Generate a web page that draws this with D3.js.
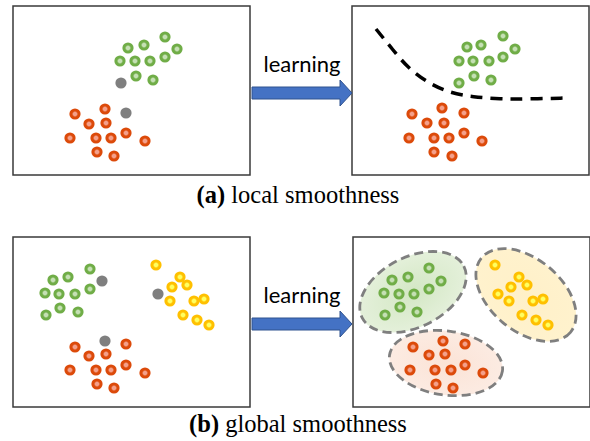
<!DOCTYPE html>
<html>
<head>
<meta charset="utf-8">
<script src="https://cdn.jsdelivr.net/npm/d3@7"></script>
<style>
  body { margin: 0; background: #fff; }
  svg { display: block; }
</style>
</head>
<body>
<div id="chart"></div>
<script>
// Dados: coordenadas locais de cada painel (0..237 x 0..170)
const painelA1 = {
  verde: [[115,42],[131,39],[152,31],[164,43],[107,55],[122,55],[137,55],[152,51],[123,70],[140,74]],
  cinza: [[108,77],[113,107]],
  vermelho: [[62,108],[92,103],[76,118],[93,117],[57,132],[83,132],[98,132],[113,127],[132,135],[84,146],[101,150]]
};
const painelA2 = {
  verde: [[115,41],[129,39],[151,30],[163,43],[107,55],[121,55],[137,55],[151,51],[122,70],[139,74],[107,77]],
  vermelho: [[60,108],[90,102],[112,107],[75,117],[92,117],[57,132],[82,132],[97,132],[112,127],[130,135],[82,146],[100,150]]
};
const fronteira = [[24,23],[41,44],[56,62],[76,77],[98,87],[121,91],[148,93],[175,93],[215,92]];

const painelB1 = {
  verde: [[77,32],[40,43],[55,40],[32,56],[46,57],[62,57],[77,52],[47,71],[33,78],[65,75]],
  cinza: [[89,44],[145,57],[92,104]],
  amarelo: [[143,28],[167,40],[159,50],[174,48],[157,64],[181,64],[191,62],[170,78],[184,83],[196,88]],
  vermelho: [[62,110],[113,107],[76,119],[93,117],[57,133],[83,133],[98,133],[113,128],[132,136],[84,147],[101,151]]
};
const painelB2 = {
  verde: [[76,31],[39,43],[55,40],[88,44],[31,56],[46,57],[61,57],[76,52],[47,70],[32,78],[64,75]],
  amarelo: [[142,28],[166,40],[158,50],[174,48],[145,57],[156,64],[180,64],[190,62],[169,78],[183,83],[195,88]],
  vermelho: [[60,110],[90,104],[112,107],[76,118],[92,117],[57,133],[82,133],[98,133],[112,128],[130,136],[83,147],[100,151]]
};
// elipses dos clusters: [cx, cy, rx, ry, ângulo]
const elipses = [
  { cor: "verde", e: [60,55,57,35,-27] },
  { cor: "amarelo", e: [173,58,58,36,40] },
  { cor: "vermelho", e: [93,126,57,32,8] }
];

const legendas = ["(a)", " local smoothness", "(b)", " global smoothness"];
const rotulo = "learning";

// Cores
const cores = {
  verde: { base: "#70ad47", centro: "#c5e0b4" },
  vermelho: { base: "#dc4a0a", centro: "#f4a08a" },
  amarelo: { base: "#ffc000", centro: "#ffff60" },
  cinza: { base: "#7f7f7f", centro: "#7f7f7f" }
};
const preenchimento = {
  verde: ["#d3e7c4", "#e4f0da"],
  amarelo: ["#fff0c8", "#fff2cd"],
  vermelho: ["#fbe3d6", "#fcebe2"]
};

const W = 590, H = 441;
const svg = d3.select("#chart").append("svg").attr("width", W).attr("height", H);
const defs = svg.append("defs");

Object.entries(cores).forEach(([k, c]) => {
  const g = defs.append("radialGradient").attr("id", "g-" + k);
  g.append("stop").attr("offset", "0%").attr("stop-color", c.centro);
  g.append("stop").attr("offset", "30%").attr("stop-color", c.centro);
  g.append("stop").attr("offset", "55%").attr("stop-color", c.base);
  g.append("stop").attr("offset", "100%").attr("stop-color", c.base);
});
Object.entries(preenchimento).forEach(([k, c]) => {
  const g = defs.append("radialGradient").attr("id", "e-" + k);
  g.append("stop").attr("offset", "0%").attr("stop-color", c[0]);
  g.append("stop").attr("offset", "100%").attr("stop-color", c[1]);
});

// Painéis
function painel(x0, y0, h) {
  const x = d3.scaleLinear().domain([0, 237]).range([x0, x0 + 237]);
  const y = d3.scaleLinear().domain([0, h]).range([y0, y0 + h]);
  const g = svg.append("g");
  g.append("rect")
    .attr("x", x(0)).attr("y", y(0))
    .attr("width", x(237) - x(0)).attr("height", y(h) - y(0))
    .attr("fill", "#fff").attr("stroke", "#3a3a3a").attr("stroke-width", 1.5);
  return { g, x, y };
}

function pontos(p, dados) {
  Object.entries(dados).forEach(([k, arr]) => {
    p.g.selectAll(".p-" + k).data(arr).enter().append("circle")
      .attr("class", "p-" + k)
      .attr("cx", d => p.x(d[0]))
      .attr("cy", d => p.y(d[1]))
      .attr("r", 5.6)
      .attr("fill", `url(#g-${k})`);
  });
}

const a1 = painel(13, 6, 169);
pontos(a1, painelA1);

const a2 = painel(352, 6, 169);
a2.g.append("path")
  .datum(fronteira)
  .attr("d", d3.line().x(d => a2.x(d[0])).y(d => a2.y(d[1])).curve(d3.curveBasis))
  .attr("fill", "none").attr("stroke", "#000")
  .attr("stroke-width", 3.5).attr("stroke-dasharray", "12 8");
pontos(a2, painelA2);

const b1 = painel(13, 237, 170);
pontos(b1, painelB1);

const b2 = painel(353, 237, 170);
b2.g.selectAll(".elipse").data(elipses).enter().append("ellipse")
  .attr("class", "elipse")
  .attr("cx", 0).attr("cy", 0)
  .attr("rx", d => d.e[2]).attr("ry", d => d.e[3])
  .attr("transform", d => `translate(${b2.x(d.e[0])},${b2.y(d.e[1])}) rotate(${d.e[4]})`)
  .attr("fill", d => `url(#e-${d.cor})`)
  .attr("stroke", "#7f7f7f").attr("stroke-width", 2.8)
  .attr("stroke-dasharray", "9 5");
pontos(b2, painelB2);

// Setas
function seta(yc) {
  const x0 = 252, x1 = 340, tip = 352;
  const pts = [[x0, yc - 6], [x1, yc - 6], [x1, yc - 13], [tip, yc], [x1, yc + 13], [x1, yc + 6], [x0, yc + 6]];
  svg.append("path")
    .attr("d", d3.line()(pts) + "Z")
    .attr("fill", "#4472c4").attr("stroke", "#2f528f").attr("stroke-width", 1);
  svg.append("text")
    .attr("x", 302).attr("y", yc - 21)
    .attr("text-anchor", "middle")
    .style("font-family", "Lato, 'Open Sans', sans-serif")
    .style("font-size", "22px")
    .attr("fill", "#000")
    .text(rotulo);
}
seta(93);
seta(324);

// Legendas
function legenda(y, a, b) {
  const t = svg.append("text")
    .attr("x", 298).attr("y", y)
    .attr("text-anchor", "middle")
    .style("font-family", "\"Liberation Serif\"")
    .style("font-size", "24.5px")
    .attr("fill", "#000");
  t.append("tspan").style("font-weight", "bold").text(a);
  t.append("tspan").text(b);
}
legenda(203, legendas[0], legendas[1]);
legenda(432, legendas[2], legendas[3]);
</script>
</body>
</html>
